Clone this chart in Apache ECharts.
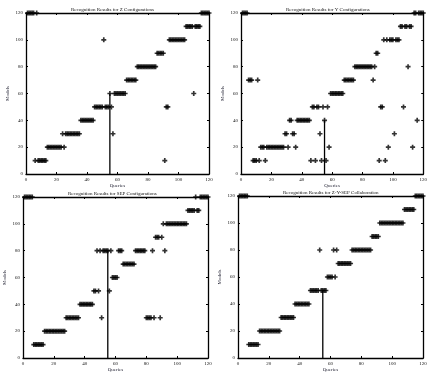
<!DOCTYPE html>
<html>
<head>
<meta charset="utf-8">
<title>Recognition Results</title>
<script src="https://cdn.jsdelivr.net/npm/echarts@6/dist/echarts.min.js"></script>
<style>
  html, body { margin: 0; padding: 0; background: #fff; }
  #chart { width: 430px; height: 374px; }
</style>
</head>
<body>
<div id="chart"></div>
<script>
// 面板标题
const titles = [
  "Recognition Results for Z Configurations",
  "Recognition Results for Y Configurations",
  "Recognition Results for SEP Configurations",
  "Recognition Results for Z-Y-SEP Collaboration",
];

// 刻度
const xTicks = [0, 20, 40, 60, 80, 100, 120];
const yTicks = [0, 20, 40, 60, 80, 100, 120];

// 竖线所在的 query
const stemQuery = 55;

// 每个 query (1..120) 识别出的 model
const zModels = [
  120, 120, 120, 120, 120, 10, 120, 10, 10, 10,
  10, 10, 10, 20, 20, 20, 20, 20, 20, 20,
  20, 20, 20, 30, 20, 30, 30, 30, 30, 30,
  30, 30, 30, 30, 30, 40, 40, 40, 40, 40,
  40, 40, 40, 40, 50, 50, 50, 50, 50, 50,
  100, 50, 50, 50, 60, 50, 30, 60, 60, 60,
  60, 60, 60, 60, 60, 70, 70, 70, 70, 70,
  70, 70, 80, 80, 80, 80, 80, 80, 80, 80,
  80, 80, 80, 80, 80, 90, 90, 90, 90, 90,
  10, 50, 50, 100, 100, 100, 100, 100, 100, 100,
  100, 100, 100, 100, 110, 110, 110, 110, 110, 60,
  110, 110, 110, 110, 120, 120, 120, 120, 120, 120,
];

const yModels = [
  120, 120, 120, 120, 70, 70, 70, 10, 10, 10,
  70, 10, 20, 20, 20, 10, 20, 20, 20, 20,
  20, 20, 20, 20, 20, 20, 20, 20, 30, 30,
  20, 40, 40, 30, 30, 20, 40, 40, 40, 40,
  40, 40, 40, 40, 40, 10, 50, 50, 10, 50,
  50, 30, 10, 50, 40, 10, 50, 20, 60, 60,
  60, 60, 60, 60, 60, 60, 60, 70, 70, 70,
  70, 70, 70, 70, 80, 80, 80, 80, 80, 80,
  80, 80, 80, 80, 80, 80, 70, 80, 90, 90,
  10, 50, 50, 100, 10, 100, 20, 100, 100, 100,
  30, 100, 100, 100, 110, 110, 50, 110, 110, 80,
  110, 110, 20, 120, 120, 40, 120, 120, 120, 120,
];

const sepModels = [
  120, 120, 120, 120, 120, 120, 10, 10, 10, 10,
  10, 10, 10, 20, 20, 20, 20, 20, 20, 20,
  20, 20, 20, 20, 20, 20, 20, 30, 30, 30,
  30, 30, 30, 30, 30, 30, 40, 40, 40, 40,
  40, 40, 40, 40, 40, 50, 50, 80, 50, 80,
  30, 80, 80, 80, 80, 50, 80, 60, 60, 60,
  60, 80, 80, 80, 70, 70, 70, 70, 70, 70,
  70, 70, 80, 80, 80, 80, 80, 80, 80, 30,
  30, 30, 30, 80, 30, 90, 90, 90, 30, 90,
  100, 80, 100, 100, 100, 100, 100, 100, 100, 100,
  100, 100, 100, 100, 100, 100, 110, 110, 110, 110,
  110, 120, 110, 110, 120, 120, 120, 120, 120, 120,
];

const zysepModels = [
  120, 120, 120, 120, 120, 120, 10, 10, 10, 10,
  10, 10, 10, 20, 20, 20, 20, 20, 20, 20,
  20, 20, 20, 20, 20, 20, 20, 30, 30, 30,
  30, 30, 30, 30, 30, 30, 40, 40, 40, 40,
  40, 40, 40, 40, 40, 40, 50, 50, 50, 50,
  50, 50, 80, 50, 50, 50, 50, 60, 60, 60,
  60, 80, 60, 80, 70, 70, 70, 70, 70, 70,
  70, 70, 70, 80, 80, 80, 80, 80, 80, 80,
  80, 80, 80, 80, 80, 80, 90, 90, 90, 90,
  90, 100, 100, 100, 100, 100, 100, 100, 100, 100,
  100, 100, 100, 100, 100, 100, 100, 110, 110, 110,
  110, 110, 110, 110, 120, 120, 120, 120, 120, 120,
];

const panels = [zModels, yModels, sepModels, zysepModels];

// 每个面板的绘图区 (px)
const grids = [
  { left: 26, top: 13, width: 183, height: 161 },
  { left: 241, top: 13, width: 183, height: 161 },
  { left: 23, top: 197, width: 185, height: 161 },
  { left: 238, top: 196, width: 185, height: 162 },
];

const FONT = "Liberation Serif";
// 粗一点的 "+" 号
const plusSymbol = "path://M2,0H4V2H6V4H4V6H2V4H0V2H2Z";

const options = {
  animation: false,
  backgroundColor: "#fff",
  title: [],
  grid: [],
  xAxis: [],
  yAxis: [],
  series: [],
};

panels.forEach((models, i) => {
  const g = grids[i];
  options.grid.push({ ...g, containLabel: false });

  options.title.push({
    text: titles[i],
    left: g.left + 40,
    top: g.top - 11,
    textStyle: { fontFamily: FONT, fontSize: 5, fontWeight: "normal", color: "#111" },
  });

  const axisCommon = {
    type: "value",
    min: 0,
    max: 120,
    interval: 20,
    gridIndex: i,
    axisLine: { show: true, onZero: false, lineStyle: { color: "#000", width: 1.3 } },
    axisTick: { show: true, inside: true, length: 2, lineStyle: { color: "#000" } },
    splitLine: { show: false },
  };

  // 下方 x 轴 (带标签)
  options.xAxis.push({
    ...axisCommon,
    position: "bottom",
    name: "Queries",
    nameLocation: "middle",
    nameGap: 9,
    nameTextStyle: { fontFamily: FONT, fontSize: 5, color: "#223" },
    axisLabel: {
      margin: 3,
      fontFamily: FONT,
      fontSize: 5,
      color: "#111",
      customValues: xTicks,
    },
  });
  // 上方 x 轴 (只画刻度)
  options.xAxis.push({ ...axisCommon, position: "top", axisLabel: { show: false } });

  // 左侧 y 轴
  options.yAxis.push({
    ...axisCommon,
    position: "left",
    name: "Models",
    nameLocation: "middle",
    nameGap: 16,
    nameTextStyle: { fontFamily: FONT, fontSize: 5, color: "#223" },
    axisLabel: {
      margin: 3,
      fontFamily: FONT,
      fontSize: 5,
      color: "#111",
      customValues: yTicks,
    },
  });
  // 右侧 y 轴
  options.yAxis.push({ ...axisCommon, position: "right", axisLabel: { show: false } });

  // 识别结果散点
  options.series.push({
    type: "scatter",
    xAxisIndex: 2 * i,
    yAxisIndex: 2 * i,
    symbol: plusSymbol,
    symbolSize: 5,
    itemStyle: { color: "#000" },
    data: models.map((m, q) => [q + 1, m]),
  });

  // 竖线
  options.series.push({
    type: "line",
    xAxisIndex: 2 * i,
    yAxisIndex: 2 * i,
    symbol: "none",
    lineStyle: { color: "#000", width: 1.3 },
    data: [
      [stemQuery, 0],
      [stemQuery, models[stemQuery - 1]],
    ],
  });
});

const chart = echarts.init(document.getElementById("chart"));
chart.setOption(options);

window.addEventListener("resize", () => {
  chart.resize();
});
</script>
</body>
</html>
